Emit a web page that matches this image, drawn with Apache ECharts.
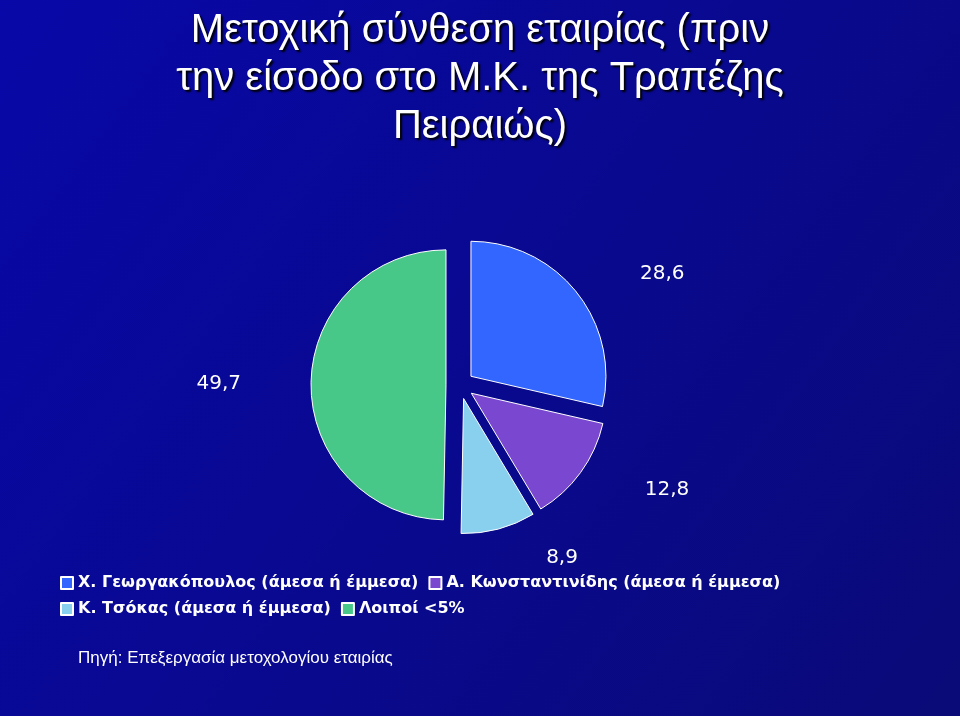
<!DOCTYPE html>
<html><head><meta charset="utf-8">
<script src="https://cdn.jsdelivr.net/npm/echarts@6/dist/echarts.min.js"></script>
<style>html,body{margin:0;padding:0;background:#0a0aa0}#c{width:960px;height:716px}</style>
</head><body><div id="c"></div>
<script>
const categories = ['Χ. Γεωργακόπουλος (άμεσα ή έμμεσα)', 'Α. Κωνσταντινίδης (άμεσα ή έμμεσα)', 'Κ. Τσόκας (άμεσα ή έμμεσα)', 'Λοιποί <5%'];
const values = [28.6, 12.8, 8.9, 49.7];
const colors = ['#3366ff', '#7a48d0', '#88d0ee', '#48c888'];
const chart = echarts.init(document.getElementById('c'));
chart.setOption({
  backgroundColor: {type:'linear',x:0,y:0,x2:1,y2:1,colorStops:[{offset:0,color:'#0808a8'},{offset:1,color:'#0a0a78'}]},
  title: {text: 'Μετοχική σύνθεση εταιρίας (πριν\nτην είσοδο στο Μ.Κ. της Τραπέζης\nΠειραιώς)', left: 'center', top: 2,
    textStyle: {color:'#fff', fontFamily:'Liberation Sans', fontSize: 40, fontWeight:'normal', lineHeight: 48, textShadowColor:'#000', textShadowOffsetX:2, textShadowOffsetY:2, textShadowBlur:2}},
  legend: {orient:'horizontal', left: 55, top: 570, width: 880, icon:'rect', itemWidth: 12, itemHeight: 12, itemGap: 10,
    textStyle: {color:'#fff', fontFamily:'DejaVu Sans', fontWeight:'bold', fontSize: 16, width: 405, overflow:'truncate'},
    data: categories},
  graphic: [{type:'text', left: 78, top: 650, style:{text:'Πηγή: Επεξεργασία μετοχολογίου εταιρίας', fill:'#fff', font:'17px Liberation Sans'}}],
  series: [{type:'pie', center:['460','385'], radius:[0, 135], startAngle: 90, clockwise: true,
    data: categories.map((n,i)=>({name:n, value:values[i], itemStyle:{color:colors[i]}})),
    selectedMode:'multiple', selectedOffset: 14,
    itemStyle:{borderColor:'#fff', borderWidth:1},
    label:{color:'#fff', fontFamily:'DejaVu Sans', fontSize:20, distanceToLabelLine: 10, formatter: p => String(p.value).replace('.', ',')},
    labelLine:{show:false, length: 30, length2: 30}, emphasis:{disabled:true}}]
});
chart.dispatchAction({type:'select', seriesIndex:0, dataIndex:[0,1,2,3]});
</script></body></html>
